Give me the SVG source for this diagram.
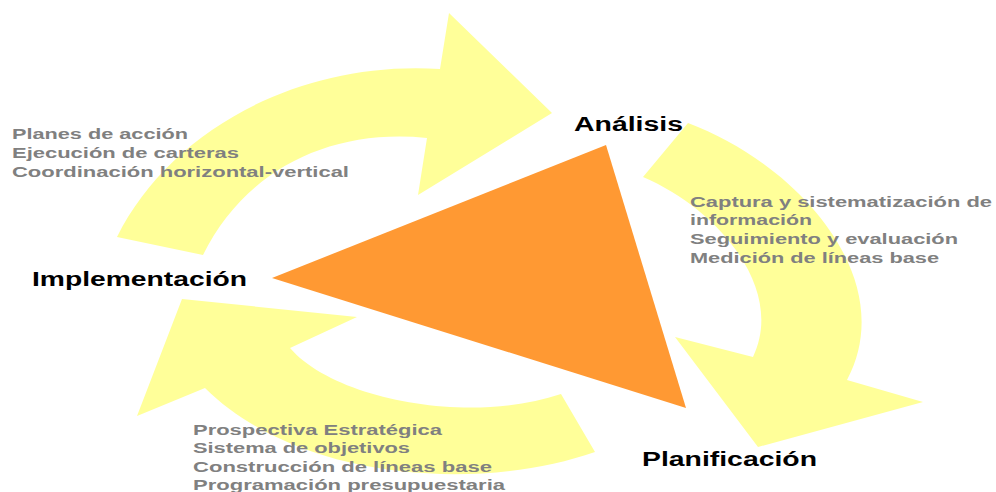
<svg xmlns="http://www.w3.org/2000/svg" width="996" height="492" viewBox="0 0 996 492">
<style>
.arrow{fill:#FFFF99;stroke:none}
.tri{fill:#FF9933;stroke:none}
.lbl{font-family:"Liberation Sans",Arial,sans-serif;font-weight:bold;font-size:20px;fill:#000}
.det{font-family:"Liberation Sans",Arial,sans-serif;font-weight:bold;font-size:14px;fill:#808080}
</style>
<rect width="996" height="492" fill="#fff"/>
<g id="connectors">
<path class="arrow" d="M117,237 C170,130 300,60 440,69 L449,13 L552,113 L418,195 L427,138 C330,128 245,170 203,255 Z"/>
<path class="arrow" d="M688,123 C800,165 900,280 847,380 L923,402 L758,447 L675,337 L753,357 C785,290 720,210 643,177 Z"/>
<path class="arrow" d="M595,452 C480,492 300,482 205,388 L137,416 L182,299 L357,317 L290,348 C335,400 470,425 561,394 Z"/>
</g>
<g id="triangle">
<polygon class="tri" points="606,145 272,278 686,408"/>
</g>
<g id="node-analisis">
<text class="lbl" x="574" y="131" textLength="109" lengthAdjust="spacingAndGlyphs">Análisis</text>
<text class="det" x="690" y="207" textLength="302" lengthAdjust="spacingAndGlyphs">Captura y sistematización de</text>
<text class="det" x="690" y="225" textLength="122" lengthAdjust="spacingAndGlyphs">información</text>
<text class="det" x="690" y="244" textLength="268" lengthAdjust="spacingAndGlyphs">Seguimiento y evaluación</text>
<text class="det" x="690" y="263" textLength="249" lengthAdjust="spacingAndGlyphs">Medición de líneas base</text>
</g>
<g id="node-planificacion">
<text class="lbl" x="642" y="466" textLength="175" lengthAdjust="spacingAndGlyphs">Planificación</text>
<text class="det" x="193" y="435" textLength="249" lengthAdjust="spacingAndGlyphs">Prospectiva Estratégica</text>
<text class="det" x="193" y="453" textLength="217" lengthAdjust="spacingAndGlyphs">Sistema de objetivos</text>
<text class="det" x="193" y="472" textLength="299" lengthAdjust="spacingAndGlyphs">Construcción de líneas base</text>
<text class="det" x="193" y="490" textLength="312" lengthAdjust="spacingAndGlyphs">Programación presupuestaria</text>
</g>
<g id="node-implementacion">
<text class="lbl" x="32" y="286" textLength="215" lengthAdjust="spacingAndGlyphs">Implementación</text>
<text class="det" x="12" y="139" textLength="176" lengthAdjust="spacingAndGlyphs">Planes de acción</text>
<text class="det" x="12" y="158" textLength="227" lengthAdjust="spacingAndGlyphs">Ejecución de carteras</text>
<text class="det" x="12" y="177" textLength="337" lengthAdjust="spacingAndGlyphs">Coordinación horizontal-vertical</text>
</g>
</svg>
